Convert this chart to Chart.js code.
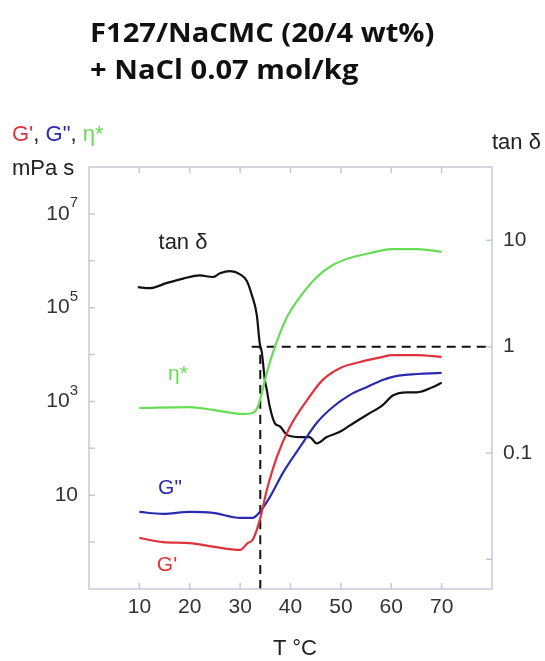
<!DOCTYPE html>
<html>
<head>
<meta charset="utf-8">
<script src="https://cdn.jsdelivr.net/npm/chart.js@4.4.1/dist/chart.umd.min.js"></script>
<style>
  body { margin: 0; background: #fff; }
  #wrap { position: relative; width: 545px; height: 661px; font-family: "Liberation Sans", Arial, sans-serif; color: #222; }
  #wrap canvas { position: absolute; left: 0; top: 0; }
  .lbl { position: absolute; font-size: 21px; line-height: 1; white-space: nowrap; }
  .c { transform: translate(-50%, -50%); }
  .l { transform: translate(0, -50%); }
  #title { position: absolute; left: 90px; top: 14px; font-family: "Open Sans", sans-serif; font-weight: 700; font-size: 26px; line-height: 37px; color: #111; transform: scaleX(1.12); transform-origin: 0 0; }
</style>
</head>
<body>
<div id="wrap">
  <canvas id="myChart" width="545" height="661"></canvas>
  <div id="title">F127/NaCMC (20/4 wt%)<br>+ NaCl 0.07 mol/kg</div>
  <div class="lbl l" style="left:12px;top:134px;font-size:22px"><span style="color:#e0323c">G'</span>, <span style="color:#2b2bb0">G"</span>, <span style="color:#66dd55">η*</span></div>
  <div class="lbl l" style="left:12px;top:168px;font-size:22px">mPa s</div>
  <div class="lbl l" style="left:492px;top:142px;font-size:22px">tan δ</div>
  <div class="lbl c" style="left:183px;top:242px;font-size:22px">tan δ</div>
  <div class="lbl c" style="left:178px;top:372px;color:#66dd55">η*</div>
  <div class="lbl c" style="left:170px;top:486px;color:#2b2bb0">G"</div>
  <div class="lbl c" style="left:167px;top:563px;color:#e0323c">G'</div>
  <div class="lbl c" style="left:295px;top:648px;font-size:22px">T °C</div>
</div>
<script>
// storage modulus G' (mPa s axis)
var gpT   = [10, 14.7, 20, 24.6, 30, 31.5, 32.5, 33.9, 35.3, 37.3, 39.9, 43.3, 46.4, 49.8, 53.8, 58.3, 60.1, 65.1, 70];
var gpVal = [1.23, 1.0, 0.95, 0.8, 0.68, 0.95, 1.12, 2.95, 12.9, 66, 288, 1070, 2880, 5130, 6920, 8910, 9770, 9770, 8910];

// loss modulus G"
var gppT   = [10, 14.7, 20, 24.6, 30, 32.5, 33.9, 35.9, 38.5, 41.9, 45.2, 48.4, 51.8, 55.2, 58.3, 60.1, 63.3, 70];
var gppVal = [4.4, 4.0, 4.4, 4.2, 3.3, 3.3, 4.4, 9.1, 30, 107, 347, 760, 1380, 2040, 2880, 3310, 3720, 4070];

// complex viscosity eta*
var etaT   = [10, 20, 24.6, 30.6, 32.3, 33.5, 35.3, 36.9, 39.3, 41.9, 45.2, 48.4, 51.8, 55.2, 60.1, 65.1, 70];
var etaVal = [724, 760, 660, 540, 560, 760, 4070, 14500, 63000, 170000, 447000, 813000, 1150000, 1410000, 1780000, 1780000, 1550000];

// tan delta (right axis)
var tanT   = [9.7, 12.1, 15.5, 18.7, 22, 24.6, 26, 28, 30, 31.3, 32.3, 33.3, 33.9, 34.3, 34.9, 35.3, 35.9, 36.9, 37.9, 39.3, 41.9, 43.8, 45.2, 47.2, 49.8, 51.8, 55.2, 58.3, 60.3, 63.1, 65.1, 68.3, 70];
var tanVal = [3.63, 3.55, 3.98, 4.37, 4.68, 4.52, 4.9, 5.13, 4.79, 4.17, 3.09, 2.0, 1.07, 0.89, 0.49, 0.39, 0.27, 0.19, 0.178, 0.148, 0.141, 0.141, 0.123, 0.141, 0.158, 0.182, 0.229, 0.282, 0.347, 0.372, 0.372, 0.417, 0.457];

// gel point guide lines
var gelT = 34;
var crossFromT = 32.3;

// axis ticks
var xTicks = [10, 20, 30, 40, 50, 60, 70];
var leftTicks = [1, 10, 100, 1e3, 1e4, 1e5, 1e6, 1e7];
var leftLabelTicks = [10, 1e3, 1e5, 1e7];
var leftLabelExp = ['', '3', '5', '7'];
var rightTicks = [0.01, 0.1, 1, 10];
var rightLabels = { 0.1: '0.1', 1: '1', 10: '10' };

var X_MIN = 0, X_MAX = 80;
var L_MIN = 0.1, L_MAX = 1e8;
var R_MIN = 0.00525, R_MAX = 49;

function pts(t, v) {
    return t.map(function(x, i) { return { x: x, y: v[i] }; });
}

var frameColor = '#c6c8d8';
var fontFamily = '"Liberation Sans", Arial, sans-serif';
var font = { family: fontFamily, size: 21 };

// frame, inward tick marks and the 10^n labels of the left axis
var framePlugin = {
    id: 'frame',
    afterDatasetsDraw: function(chart) {
        var c = chart.ctx, a = chart.chartArea, s = chart.scales;
        c.save();
        c.strokeStyle = frameColor;
        c.lineWidth = 1.5;
        c.strokeRect(a.left, a.top, a.right - a.left, a.bottom - a.top);
        c.beginPath();
        xTicks.forEach(function(t) {
            var px = s.x.getPixelForValue(t);
            c.moveTo(px, a.bottom); c.lineTo(px, a.bottom - 6);
            c.moveTo(px, a.top); c.lineTo(px, a.top + 6);
        });
        leftTicks.forEach(function(t) {
            var py = s.y.getPixelForValue(t);
            c.moveTo(a.left, py); c.lineTo(a.left + 6, py);
        });
        rightTicks.forEach(function(t) {
            var py = s.y2.getPixelForValue(t);
            c.moveTo(a.right, py); c.lineTo(a.right - 6, py);
        });
        c.stroke();

        c.fillStyle = '#333';
        c.textBaseline = 'middle';
        c.textAlign = 'right';
        var xr = a.left - 11;
        leftLabelTicks.forEach(function(t, i) {
            var py = s.y.getPixelForValue(t);
            var e = leftLabelExp[i];
            var ew = 0;
            if (e) {
                c.font = '15px ' + fontFamily;
                ew = c.measureText(e).width;
                c.fillText(e, xr, py - 11);
            }
            c.font = '21px ' + fontFamily;
            c.fillText('10', xr - ew, py);
        });
        c.restore();
    }
};

var line = function(label, data, color, axis, extra) {
    var d = {
        label: label, data: data, borderColor: color, borderWidth: 2.2,
        pointRadius: 0, fill: false, yAxisID: axis, cubicInterpolationMode: 'monotone'
    };
    for (var k in extra) d[k] = extra[k];
    return d;
};

var ctx = document.getElementById('myChart').getContext('2d');
var myChart = new Chart(ctx, {
    type: 'line',
    data: {
        datasets: [
            line("G'", pts(gpT, gpVal), '#e0323c', 'y'),
            line('G"', pts(gppT, gppVal), '#2b2bb0', 'y'),
            line('η*', pts(etaT, etaVal), '#66dd55', 'y'),
            line('tan δ', pts(tanT, tanVal), '#111111', 'y2'),
            line('tan δ = 1', [{ x: crossFromT, y: 1 }, { x: X_MAX, y: 1 }], '#111111', 'y2', { borderDash: [9, 6], borderWidth: 2 }),
            line('gel point', [{ x: gelT, y: R_MIN }, { x: gelT, y: 1 }], '#111111', 'y2', { borderDash: [9, 6], borderWidth: 2 })
        ]
    },
    options: {
        responsive: false,
        animation: false,
        layout: { padding: { top: 167, left: 0, right: 0, bottom: 0 } },
        plugins: { legend: { display: false }, tooltip: { enabled: false } },
        scales: {
            x: {
                type: 'linear', min: X_MIN, max: X_MAX,
                grid: { display: false, drawTicks: false }, border: { display: false },
                afterBuildTicks: function(s) { s.ticks = xTicks.map(function(v) { return { value: v }; }); },
                afterFit: function(s) { s.height = 72; },
                ticks: { color: '#333', font: font, padding: 6, maxRotation: 0 }
            },
            y: {
                type: 'logarithmic', position: 'left', min: L_MIN, max: L_MAX,
                grid: { display: false, drawTicks: false }, border: { display: false },
                afterBuildTicks: function(s) { s.ticks = leftTicks.map(function(v) { return { value: v }; }); },
                afterFit: function(s) { s.width = 89; },
                ticks: { display: false }
            },
            y2: {
                type: 'logarithmic', position: 'right', min: R_MIN, max: R_MAX,
                grid: { display: false, drawTicks: false }, border: { display: false },
                afterBuildTicks: function(s) { s.ticks = rightTicks.map(function(v) { return { value: v }; }); },
                afterFit: function(s) { s.width = 53; },
                ticks: {
                    color: '#333', font: font, padding: 11,
                    callback: function(v) { return rightLabels[v] || ''; }
                }
            }
        }
    },
    plugins: [framePlugin]
});
</script>
</body>
</html>
